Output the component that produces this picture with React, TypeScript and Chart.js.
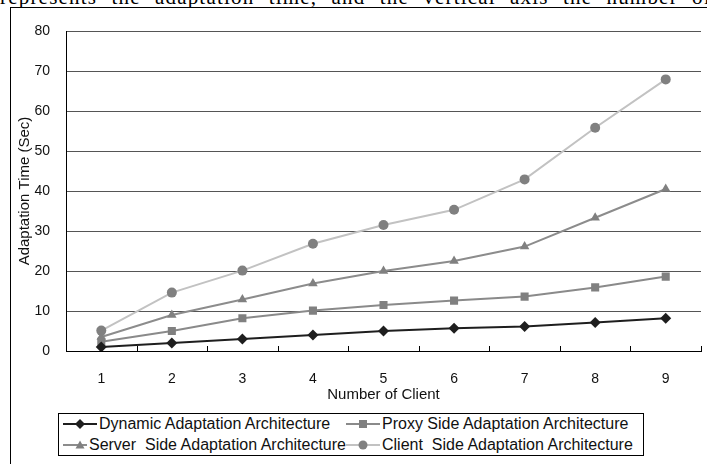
import React, { useEffect, useRef } from "react";
import { Chart, registerables } from "chart.js";

Chart.register(...registerables);

const categories = ["1", "2", "3", "4", "5", "6", "7", "8", "9"];
const dynamicValues = [1, 2, 3, 4, 5, 5.7, 6.1, 7.1, 8.2];
const proxyValues = [2.3, 5, 8.2, 10.1, 11.5, 12.6, 13.6, 15.9, 18.6];
const serverValues = [3.5, 9, 12.9, 16.9, 20, 22.5, 26.1, 33.3, 40.5];
const clientValues = [5.1, 14.6, 20.1, 26.8, 31.5, 35.3, 42.9, 55.8, 67.9];
const yMin = 0;
const yMax = 80;
const yStep = 10;

const seriesNames = [
  "Dynamic Adaptation Architecture",
  "Proxy Side Adaptation Architecture",
  "Server  Side Adaptation Architecture",
  "Client  Side Adaptation Architecture",
];

const FONT = "'Liberation Sans', Arial, sans-serif";

const styles = [
  { line: "#1e1e1e", point: "#1e1e1e", shape: "rectRot", radius: 5.5 },
  { line: "#8a8a8a", point: "#808080", shape: "rect", radius: 5.7 },
  { line: "#8c8c8c", point: "#808080", shape: "triangle", radius: 5.5 },
  { line: "#c2c2c2", point: "#808080", shape: "circle", radius: 5 },
];

const innerTicks = {
  id: "innerTicks",
  afterDraw(chart: any) {
    const x = chart.scales.x;
    const { ctx } = chart;
    const n = x.ticks.length;
    ctx.save();
    ctx.strokeStyle = "#000";
    ctx.lineWidth = 1;
    for (let i = 1; i <= n; i++) {
      const px = Math.round(x.left + (i * (x.right - x.left)) / n) + 0.5;
      ctx.beginPath();
      ctx.moveTo(px, x.top);
      ctx.lineTo(px, x.top - 5);
      ctx.stroke();
    }
    ctx.restore();
  },
};

function Marker({ idx }: { idx: number }) {
  const s = styles[idx];
  let shape: any = null;
  if (idx === 0) shape = <polygon points="17,1 22,6 17,11 12,6" fill={s.point} />;
  if (idx === 1) shape = <rect x="13" y="2" width="8" height="8" fill={s.point} />;
  if (idx === 2) shape = <polygon points="17,1.5 21.5,9.5 12.5,9.5" fill={s.point} />;
  if (idx === 3) shape = <circle cx="17" cy="6" r="4.5" fill={s.point} />;
  return (
    <svg width="34" height="12" style={{ display: "block", marginRight: 2 }}>
      <line x1="0" y1="6" x2="34" y2="6" stroke={s.line} strokeWidth="2" />
      {shape}
    </svg>
  );
}

export default function App() {
  const ref = useRef<HTMLCanvasElement | null>(null);

  useEffect(() => {
    if (!ref.current) return;
    const values = [dynamicValues, proxyValues, serverValues, clientValues];
    const chart = new Chart(ref.current, {
      type: "line",
      data: {
        labels: categories,
        datasets: values.map((v, i) => ({
          label: seriesNames[i],
          data: v,
          borderColor: styles[i].line,
          borderWidth: 2,
          backgroundColor: styles[i].point,
          pointBackgroundColor: styles[i].point,
          pointBorderColor: styles[i].point,
          pointBorderWidth: 0,
          pointStyle: styles[i].shape as any,
          pointRadius: styles[i].radius,
          tension: 0,
          fill: false,
        })),
      },
      options: {
        responsive: false,
        animation: false,
        devicePixelRatio: 1,
        layout: { padding: { left: 0, top: 31, right: 6, bottom: 0 } },
        plugins: {
          legend: { display: false },
          tooltip: { enabled: false },
        },
        scales: {
          x: {
            type: "category",
            offset: true,
            grid: { display: false },
            border: { display: true, color: "#000", width: 1 },
            ticks: { padding: 12, color: "#111", font: { family: FONT, size: 14 } },
            title: {
              display: true,
              text: "Number of Client",
              color: "#111",
              font: { family: FONT, size: 15 },
              padding: { top: 0, bottom: 6 },
            },
            afterFit: (s: any) => {
              s.height = 59;
            },
          },
          y: {
            min: yMin,
            max: yMax,
            ticks: { stepSize: yStep, padding: 16, color: "#111", font: { family: FONT, size: 14 } },
            grid: {
              drawTicks: false,
              color: (c: any) => (c.tick && c.tick.value === 0 ? "#000" : "#555"),
              lineWidth: 1,
            },
            border: { display: true, color: "#000", width: 1 },
            title: {
              display: true,
              text: "Adaptation Time (Sec)",
              color: "#111",
              font: { family: FONT, size: 15 },
              padding: { top: 16, bottom: 0 },
            },
            afterFit: (s: any) => {
              s.width = 66;
            },
          },
        },
      },
      plugins: [innerTicks],
    });
    return () => chart.destroy();
  }, []);

  const legendItem = (i: number) => (
    <div style={{ display: "flex", alignItems: "center", height: 21 }}>
      <Marker idx={i} />
      <span style={{ whiteSpace: "pre" }}>{seriesNames[i]}</span>
    </div>
  );

  return (
    <div
      style={{
        position: "absolute",
        left: 0,
        top: 0,
        width: 707,
        height: 464,
        overflow: "hidden",
        background: "#fff",
      }}
    >
      <div
        style={{
          position: "absolute",
          left: 0,
          top: 0,
          width: 707,
          height: 7,
          overflow: "hidden",
        }}
      >
        <div
          style={{
            position: "absolute",
            left: 0,
            top: -15,
            width: 712,
            fontFamily: "'Liberation Serif', 'Times New Roman', serif",
            fontSize: 21,
            letterSpacing: "1.2px",
            lineHeight: "24px",
            whiteSpace: "normal",
            textAlign: "justify",
            textAlignLast: "justify" as any,
            color: "#000",
          }}
        >
          represents the adaptation time, and the vertical axis the number of
        </div>
      </div>
      <div
        style={{
          position: "absolute",
          left: 10,
          top: 7,
          width: 800,
          height: 600,
          border: "1px solid #000",
          boxSizing: "border-box",
        }}
      />
      <canvas
        ref={ref}
        width={707}
        height={410}
        style={{ position: "absolute", left: 0, top: 0, width: 707, height: 410 }}
      />
      <div
        style={{
          position: "absolute",
          left: 58,
          top: 413,
          width: 586,
          height: 43,
          border: "1px solid #000",
          boxSizing: "border-box",
          fontFamily: FONT,
          fontSize: 16,
          color: "#111",
          display: "grid",
          gridTemplateColumns: "283px 300px",
          paddingLeft: 4,
          alignContent: "center",
          background: "#fff",
        }}
      >
        {legendItem(0)}
        {legendItem(1)}
        {legendItem(2)}
        {legendItem(3)}
      </div>
    </div>
  );
}
